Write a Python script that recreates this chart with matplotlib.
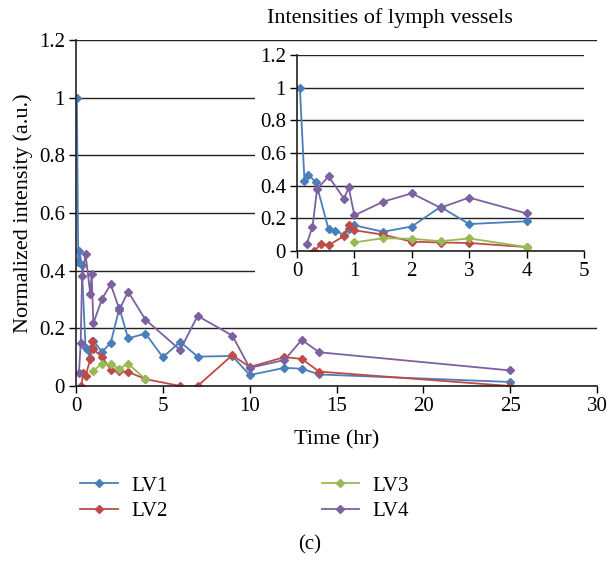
import matplotlib
matplotlib.use("Agg")
import matplotlib.pyplot as plt
from matplotlib.patches import Rectangle
from matplotlib.ticker import FuncFormatter

plt.rcParams['font.family'] = ['Liberation Serif', 'DejaVu Serif']

# time (hr) and normalized intensity per lymph vessel
t_lv1 = [0.05, 0.13, 0.2, 0.33, 0.55, 0.67, 0.82, 0.9, 1.0, 1.5, 2, 2.5, 3, 4,
         5, 6, 7, 9, 10, 12, 13, 14, 25]
lv1 = [1.0, 0.43, 0.467, 0.42, 0.133, 0.125, 0.097, 0.135, 0.157, 0.118, 0.15,
       0.27, 0.165, 0.182, 0.10, 0.153, 0.102, 0.104, 0.038, 0.063, 0.06, 0.04,
       0.014]

t_lv2 = [0.3, 0.42, 0.55, 0.82, 0.9, 1.0, 1.5, 2, 2.5, 3, 4, 6, 7, 9, 10, 12,
         13, 14, 25]
lv2 = [0.0, 0.045, 0.035, 0.092, 0.157, 0.127, 0.1, 0.057, 0.052, 0.049, 0.024,
       0.0, 0.0, 0.107, 0.066, 0.1, 0.094, 0.05, 0.0]

t_lv3 = [1.0, 1.5, 2, 2.5, 3, 4]
lv3 = [0.053, 0.078, 0.075, 0.06, 0.077, 0.024]

t_lv4 = [0.17, 0.27, 0.35, 0.55, 0.82, 0.9, 1.0, 1.5, 2, 2.5, 3, 4, 6, 7, 9,
         10, 12, 13, 14, 25]
lv4 = [0.045, 0.148, 0.38, 0.457, 0.32, 0.39, 0.218, 0.302, 0.353, 0.265,
       0.327, 0.23, 0.125, 0.243, 0.175, 0.063, 0.09, 0.16, 0.117, 0.054]

series = [("LV1", t_lv1, lv1, "#4a7ebb"),
          ("LV2", t_lv2, lv2, "#be4b48"),
          ("LV3", t_lv3, lv3, "#98b954"),
          ("LV4", t_lv4, lv4, "#7d60a0")]

INSET_TMAX = 4  # the zoomed panel only shows the first 4 hours

W, H = 611, 564
fig = plt.figure(figsize=(W / 100, H / 100), dpi=100)


def px_axes(left, top, right, bottom):
    return [left / W, 1 - bottom / H, (right - left) / W, (bottom - top) / H]


def style_axes(ax, xmax, fs):
    ax.set_ylim(0, 1.2)
    ax.set_xlim(0, xmax)
    ax.set_yticks([0, 0.2, 0.4, 0.6, 0.8, 1.0, 1.2])
    ax.yaxis.set_major_formatter(FuncFormatter(lambda v, p: "%g" % round(v, 1)))
    ax.grid(axis='y', color='#222222', linewidth=1.0)
    ax.set_axisbelow(True)
    for s in ['top', 'right']:
        ax.spines[s].set_visible(False)
    for s in ['left', 'bottom']:
        ax.spines[s].set_linewidth(1.2)
        ax.spines[s].set_color('#222222')
    ax.tick_params(direction='out', length=5, width=1.0, labelsize=fs, pad=3)


FS = 15

ax = fig.add_axes(px_axes(76, 40, 597, 386))
style_axes(ax, 30, FS)
ax.set_xticks(range(0, 31, 5))
lines = []
for name, t, v, c in series:
    ln, = ax.plot(t, v, color=c, lw=1.3, marker='D', ms=4.5, label=name)
    lines.append(ln)
ax.set_xlabel("Time (hr)", fontsize=16, labelpad=10)
ax.set_ylabel("Normalized intensity (a.u.)", fontsize=16, labelpad=4)

# white panel behind the zoomed inset
fig.patches.append(Rectangle((255 / W, 1 - 285 / H), 345 / W, 238 / H,
                             transform=fig.transFigure, facecolor='white',
                             edgecolor='none', zorder=0.5))

ins = fig.add_axes(px_axes(297, 55, 584, 251))
ins.set_zorder(1)
style_axes(ins, 5, FS)
ins.set_xticks(range(0, 6))
for name, t, v, c in series:
    tt = [x for x in t if x <= INSET_TMAX]
    ins.plot(tt, v[:len(tt)], color=c, lw=1.3, marker='D', ms=4.5)

fig.text(390 / W, 1 - 18 / H, "Intensities of lymph vessels", fontsize=16,
         ha='center', va='center')

fig.legend(handles=lines, ncol=2, loc='upper left',
           bbox_to_anchor=(80 / W, 1 - 476 / H), frameon=False, fontsize=FS,
           handlelength=1.8, handletextpad=0.65, columnspacing=7.4,
           labelspacing=0.3, borderpad=0, borderaxespad=0)

fig.text(310 / W, 1 - 545 / H, "(c)", fontsize=FS, ha='center', va='center')

fig.savefig("out.png", dpi=100)
